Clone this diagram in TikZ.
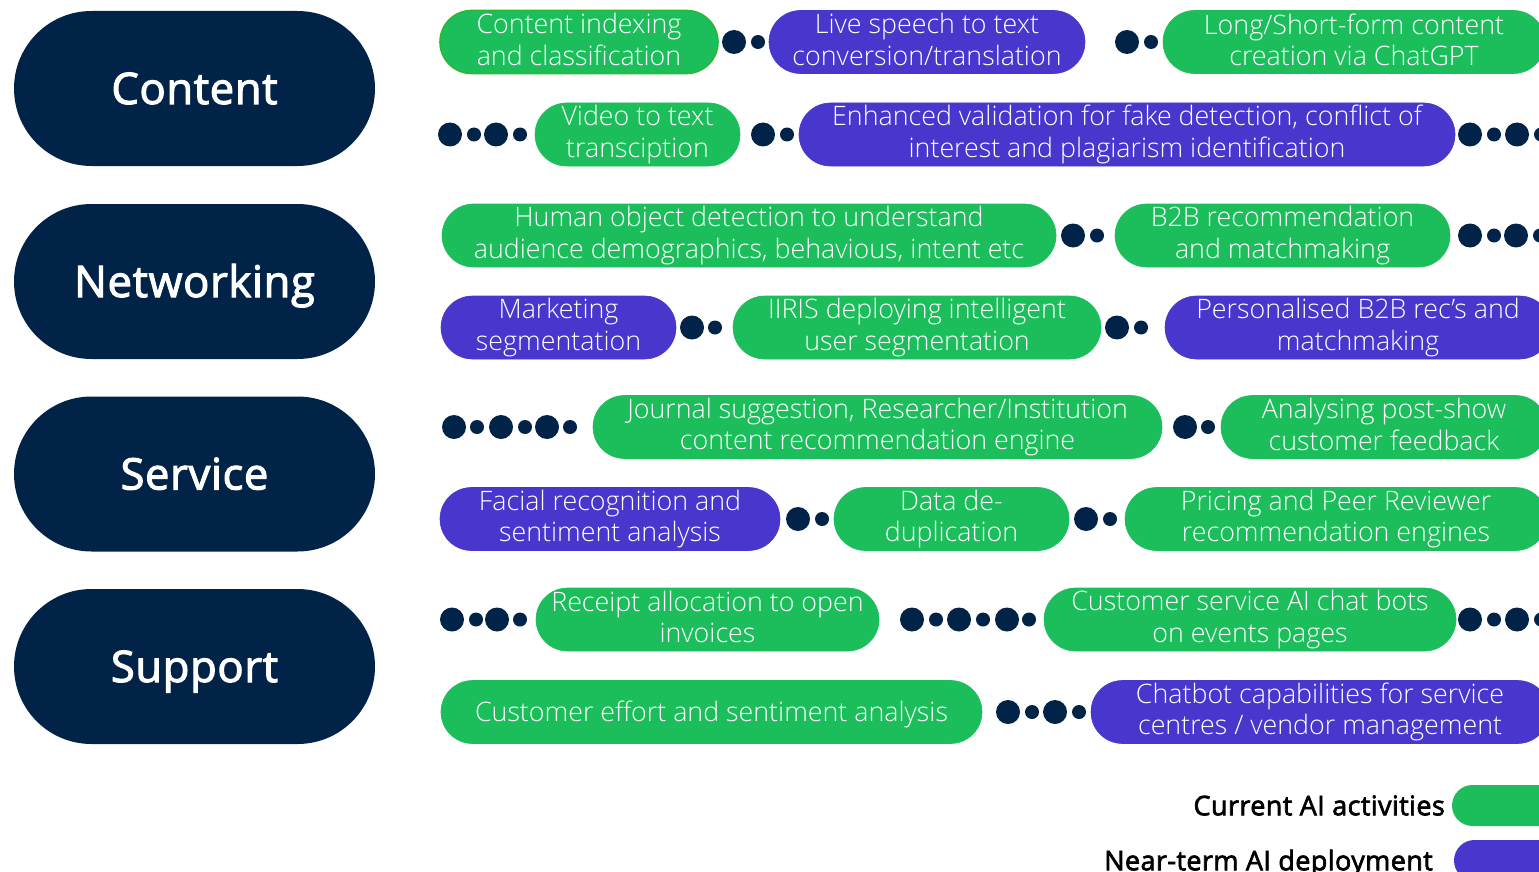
\documentclass[tikz,border=0pt]{standalone}
\usepackage{fontspec}
\setmainfont{Open Sans}
\newfontfamily\pillface{Open Sans Light}
\newfontfamily\headface{Open Sans}[FakeBold=2.5, LetterSpace=1.5]
\definecolor{navy}{RGB}{0,35,71}
\definecolor{aigreen}{RGB}{28,190,92}
\definecolor{aigreenedge}{RGB}{42,184,52}
\definecolor{aipurple}{RGB}{73,54,204}
% fixed line height/depth so every pill centres its text the same way
\newcommand\pillstrut{\vrule height 25pt depth 5pt width 0pt}
\tikzset{
  pill/.style={rounded corners=31.5pt, minimum height=63pt, inner sep=0pt,
    text=white, align=center, font=\pillface\fontsize{26.8}{31.5}\selectfont,
    execute at begin node=\pillstrut, execute at end node=\pillstrut},
  cur/.style={pill, fill=aigreen, draw=aigreen, line width=0.6pt},
  edged/.style={draw=aigreenedge, line width=1.6pt},
  near/.style={pill, fill=aipurple, draw=aipurple, line width=0.6pt},
  cat/.style={rounded corners=77.5pt, fill=navy, minimum width=361pt,
    minimum height=155pt, inner sep=0pt, text=white, text height=31pt, text depth=0pt,
    font=\headface\fontsize{43.5}{50}\selectfont},
  bigdot/.style={circle, fill=navy, minimum size=24pt, inner sep=0pt},
  smalldot/.style={circle, fill=navy, minimum size=14pt, inner sep=0pt},
  legtext/.style={anchor=east, inner sep=0pt, text=black, text height=19.5pt, text depth=0pt,
    font=\headface\fontsize{27}{32}\selectfont},
  legkey/.style={rounded corners=20.5pt, minimum height=41pt, minimum width=110pt, inner sep=0pt},
}
\begin{document}
\begin{tikzpicture}[x=1pt,y=-1pt]
\useasboundingbox (0,0) rectangle (1539,872);
\clip (0,0) rectangle (1539,872);

% category pills
\node[cat] (content) at (194.5,88.5) {Content};
\node[cat] (networking) at (194.5,281.5) {Networking};
\node[cat] (service) at (194.5,474) {Service};
\node[cat] (support) at (194.5,666.5) {Support};

% row 1
\node[cur, edged, minimum width=278pt] (p11) at (579,42) {Content indexing\\and classification};
\node[bigdot] (d11a) at (734,42) {};
\node[smalldot] (d11b) at (758,42) {};
\node[near, minimum width=316pt] (p12) at (927,42) {Live speech to text\\conversion/translation};
\node[bigdot] (d12a) at (1127,42) {};
\node[smalldot] (d12b) at (1151,42) {};
\node[cur, minimum width=382pt] (p13) at (1354,42) {Long/Short-form content\\creation via ChatGPT};

% row 2
\node[bigdot] (d21a) at (450,134.5) {};
\node[smalldot] (d21b) at (474,134.5) {};
\node[bigdot] (d21c) at (496,134.5) {};
\node[smalldot] (d21d) at (520,134.5) {};
\node[cur, minimum width=205pt] (p21) at (637.5,134.5) {Video to text\\transciption};
\node[bigdot] (d22a) at (763,134.5) {};
\node[smalldot] (d22b) at (787,134.5) {};
\node[near, minimum width=656pt] (p22) at (1127,134.5) {Enhanced validation for fake detection, conflict of\\interest and plagiarism identification};
\node[bigdot] (d23a) at (1470,134.5) {};
\node[smalldot] (d23b) at (1494,134.5) {};
\node[bigdot] (d23c) at (1517,134.5) {};
\node[smalldot] (d23d) at (1541,134.5) {};

% row 3
\node[cur, minimum width=614pt] (p31) at (749,235.5) {Human object detection to understand\\audience demographics, behavious, intent etc};
\node[bigdot] (d31a) at (1073,235.5) {};
\node[smalldot] (d31b) at (1097,235.5) {};
\node[cur, minimum width=335pt] (p32) at (1282.5,235.5) {B2B recommendation\\and matchmaking};
\node[bigdot] (d32a) at (1470,235.5) {};
\node[smalldot] (d32b) at (1494,235.5) {};
\node[bigdot] (d32c) at (1516,235.5) {};
\node[smalldot] (d32d) at (1540,235.5) {};

% row 4
\node[near, minimum width=235pt] (p41) at (558.5,327.5) {Marketing\\segmentation};
\node[bigdot] (d41a) at (692,327.5) {};
\node[smalldot] (d41b) at (715,327.5) {};
\node[cur, minimum width=368pt] (p42) at (917,327.5) {IIRIS deploying intelligent\\user segmentation};
\node[bigdot] (d42a) at (1117,327.5) {};
\node[smalldot] (d42b) at (1141,327.5) {};
\node[near, minimum width=386pt] (p43) at (1358,327.5) {Personalised B2B rec’s and\\matchmaking};

% row 5
\node[bigdot] (d51a) at (454,427) {};
\node[smalldot] (d51b) at (477,427) {};
\node[bigdot] (d51c) at (501,427) {};
\node[smalldot] (d51d) at (525,427) {};
\node[bigdot] (d51e) at (547,427) {};
\node[smalldot] (d51f) at (570,427) {};
\node[cur, minimum width=569pt] (p51) at (877.5,427) {Journal suggestion, Researcher/Institution\\content recommendation engine};
\node[bigdot] (d52a) at (1185,427) {};
\node[smalldot] (d52b) at (1208,427) {};
\node[cur, minimum width=326pt] (p52) at (1384,427) {Analysing post-show\\customer feedback};

% row 6
\node[near, minimum width=340pt] (p61) at (610,519) {Facial recognition and\\sentiment analysis};
\node[bigdot] (d61a) at (798,519) {};
\node[smalldot] (d61b) at (822,519) {};
\node[cur, minimum width=235pt] (p62) at (951.5,519) {Data de-\\duplication};
\node[bigdot] (d62a) at (1086,519) {};
\node[smalldot] (d62b) at (1110,519) {};
\node[cur, minimum width=422pt] (p63) at (1336,519) {Pricing and Peer Reviewer\\recommendation engines};

% row 7
\node[bigdot] (d71a) at (452,619.5) {};
\node[smalldot] (d71b) at (476,619.5) {};
\node[bigdot] (d71c) at (497,619.5) {};
\node[smalldot] (d71d) at (520,619.5) {};
\node[cur, minimum width=343pt] (p71) at (707.5,619.5) {Receipt allocation to open\\invoices};
\node[bigdot] (d72a) at (912,619.5) {};
\node[smalldot] (d72b) at (936,619.5) {};
\node[bigdot] (d72c) at (959,619.5) {};
\node[smalldot] (d72d) at (983,619.5) {};
\node[bigdot] (d72e) at (1007,619.5) {};
\node[smalldot] (d72f) at (1029,619.5) {};
\node[cur, minimum width=412pt] (p72) at (1250,619.5) {Customer service AI chat bots\\on events pages};
\node[bigdot] (d73a) at (1470,619.5) {};
\node[smalldot] (d73b) at (1494,619.5) {};
\node[bigdot] (d73c) at (1517,619.5) {};
\node[smalldot] (d73d) at (1541,619.5) {};

% row 8
\node[cur, minimum width=541pt] (p81) at (711.5,712) {Customer effort and sentiment analysis};
\node[bigdot] (d81a) at (1008,712) {};
\node[smalldot] (d81b) at (1032,712) {};
\node[bigdot] (d81c) at (1055,712) {};
\node[smalldot] (d81d) at (1079,712) {};
\node[near, minimum width=458pt] (p82) at (1320,712) {Chatbot capabilities for service\\centres / vendor management};

% legend
\node[legkey, fill=aigreen] (keycur) at (1507,805.5) {};
\node[legtext] (labcur) at (1445,805.5) {Current AI activities};
\node[legkey, fill=aipurple] (keynear) at (1509,860.5) {};
\node[legtext] (labnear) at (1433,860.5) {Near-term AI deployment};
\end{tikzpicture}
\end{document}
